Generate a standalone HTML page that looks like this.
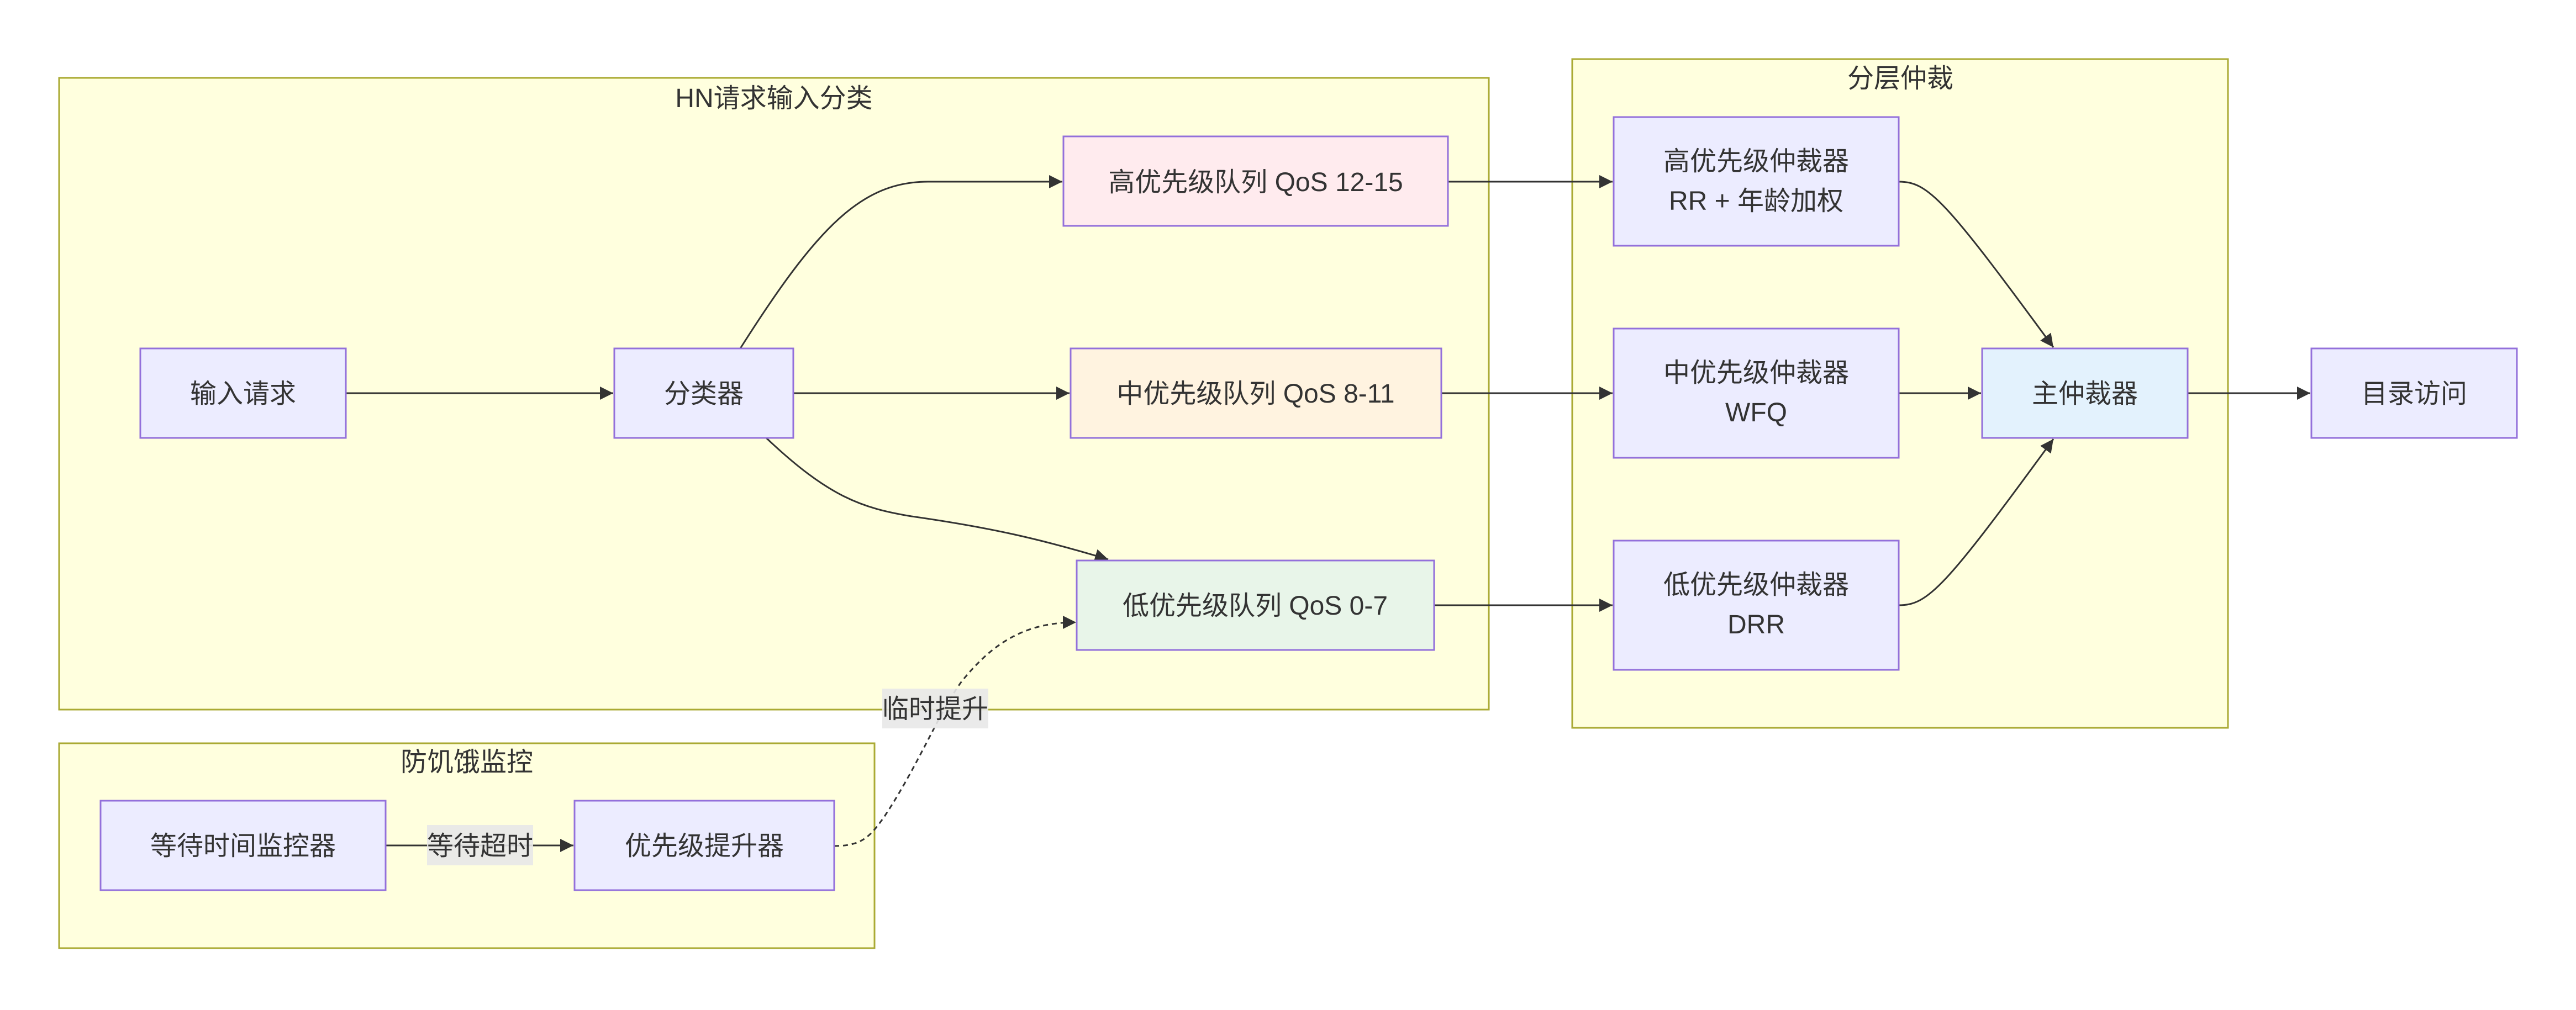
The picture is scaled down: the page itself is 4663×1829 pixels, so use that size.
<!DOCTYPE html>
<html><head><meta charset="utf-8"><style>
html,body{margin:0;padding:0;background:#fff;}
svg text{font-family:"Liberation Sans","Noto Sans CJK SC",sans-serif;font-size:48px;fill:#333;}
</style></head><body>
<svg width="4663" height="1824" viewBox="0 0 4663 1824" xmlns="http://www.w3.org/2000/svg">
<defs>
<marker id="a" markerUnits="userSpaceOnUse" markerWidth="26" markerHeight="26" refX="24" refY="12" orient="auto" viewBox="0 0 26 24">
<path d="M0,0 L24,12 L0,24 z" fill="#333"/>
</marker>
</defs>
<g stroke="#aaaa33" stroke-width="3" fill="#ffffde">
<rect x="107" y="141" width="2588" height="1144"/>
<rect x="107" y="1346" width="1476" height="371"/>
<rect x="2846" y="107" width="1187" height="1211"/>
</g>
<text x="1401" y="194" text-anchor="middle">HN请求输入分类</text>
<text x="845" y="1396" text-anchor="middle">防饥饿监控</text>
<text x="3440" y="158" text-anchor="middle">分层仲裁</text>
<g fill="none" stroke="#333" stroke-width="3">
<path d="M626,712 L1110,712" marker-end="url(#a)"/>
<path d="M1340,631 C1480,410 1560,329 1680,329 L1923,329" marker-end="url(#a)"/>
<path d="M1436,712 L1936,712" marker-end="url(#a)"/>
<path d="M1387,793 C1500,900 1560,920 1650,935 C1790,955 1880,975 2006,1013" marker-end="url(#a)"/>
<path d="M2621,329 L2919,329" marker-end="url(#a)"/>
<path d="M2609,712 L2919,712" marker-end="url(#a)"/>
<path d="M2596,1096 L2919,1096" marker-end="url(#a)"/>
<path d="M3437,329 C3490,329 3520,360 3717,629" marker-end="url(#a)"/>
<path d="M3437,712 L3586,712" marker-end="url(#a)"/>
<path d="M3437,1096 C3490,1096 3520,1065 3717,795" marker-end="url(#a)"/>
<path d="M3960,712 L4182,712" marker-end="url(#a)"/>
<path d="M698,1531 L1038,1531" marker-end="url(#a)"/>
<path d="M1510,1532 C1560,1532 1575,1515 1600,1480 C1660,1390 1700,1290 1740,1235 C1800,1160 1860,1127 1948,1127" stroke-dasharray="9,7" marker-end="url(#a)"/>
</g>
<g stroke="#9370db" stroke-width="3">
<rect x="254" y="631" width="372" height="162" fill="#ececff"/>
<rect x="1112" y="631" width="324" height="162" fill="#ececff"/>
<rect x="1925" y="247" width="696" height="162" fill="#ffebee"/>
<rect x="1938" y="631" width="671" height="162" fill="#fff3e0"/>
<rect x="1949" y="1015" width="647" height="162" fill="#e8f5e9"/>
<rect x="182" y="1450" width="516" height="162" fill="#ececff"/>
<rect x="1040" y="1450" width="470" height="162" fill="#ececff"/>
<rect x="2921" y="212" width="516" height="233" fill="#ececff"/>
<rect x="2921" y="595" width="516" height="234" fill="#ececff"/>
<rect x="2921" y="979" width="516" height="234" fill="#ececff"/>
<rect x="3588" y="631" width="372" height="162" fill="#e3f2fd"/>
<rect x="4184" y="631" width="372" height="162" fill="#ececff"/>
</g>
<rect x="773" y="1494" width="192" height="73" fill="#e8e8e8" opacity="0.9"/>
<rect x="1597" y="1247" width="192" height="72" fill="#e8e8e8" opacity="0.9"/>
<g text-anchor="middle">
<text x="440" y="729">输入请求</text>
<text x="1274" y="729">分类器</text>
<text x="2273" y="346">高优先级队列 QoS 12-15</text>
<text x="2273" y="729">中优先级队列 QoS 8-11</text>
<text x="2272" y="1113">低优先级队列 QoS 0-7</text>
<text x="440" y="1548">等待时间监控器</text>
<text x="1275" y="1548">优先级提升器</text>
<text x="869" y="1548">等待超时</text>
<text x="1693" y="1300">临时提升</text>
<text x="3179" y="308">高优先级仲裁器</text>
<text x="3179" y="380">RR + 年龄加权</text>
<text x="3179" y="691">中优先级仲裁器</text>
<text x="3179" y="763">WFQ</text>
<text x="3179" y="1075">低优先级仲裁器</text>
<text x="3179" y="1147">DRR</text>
<text x="3774" y="729">主仲裁器</text>
<text x="4370" y="729">目录访问</text>
</g>
</svg>
</body></html>
